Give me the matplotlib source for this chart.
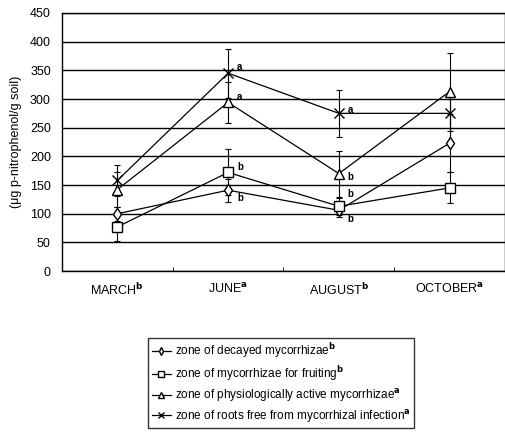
import matplotlib
matplotlib.use("Agg")
import matplotlib.pyplot as plt
from matplotlib.lines import Line2D
import numpy as np

plt.rcParams['font.family'] = ['Liberation Sans', 'DejaVu Sans']

months = ['MARCH', 'JUNE', 'AUGUST', 'OCTOBER']
month_sup = ['b', 'a', 'b', 'a']

decayed = [100, 141, 106, 223]
decayed_err = [12, 20, 12, 50]
fruiting = [77, 172, 113, 145]
fruiting_err = [24, 40, 15, 27]
active = [142, 294, 170, 313]
active_err = [30, 35, 40, 68]
free = [158, 345, 275, 275]
free_err = [27, 43, 41, 25]

# letters next to points (june, august) and their y offsets
lab_june = ['b', 'b', 'a', 'a']
lab_aug = ['b', 'b', 'b', 'a']
off_june = [-14, 10, 10, 10]
off_aug = [-16, 22, -6, 6]

names = ['zone of decayed mycorrhizae', 'zone of mycorrhizae for fruiting',
         'zone of physiologically active mycorrhizae',
         'zone of roots free from mycorrhizal infection']
name_sup = ['b', 'b', 'a', 'a']

fig = plt.figure(figsize=(5.06, 4.33), dpi=100)
ax = fig.add_axes([0.1225, 0.374, 0.8755, 0.596])

x = np.arange(len(months))
series = [(decayed, decayed_err, 'd', 6), (fruiting, fruiting_err, 's', 7),
          (active, active_err, '^', 7), (free, free_err, 'x', 7)]
handles = []
for i, (vals, err, m, ms) in enumerate(series):
    ax.errorbar(x, vals, yerr=err, color='black', marker=m, ms=ms, mfc='white',
                mec='black', lw=0.9, elinewidth=0.8, capsize=2.5, capthick=0.8)
    handles.append(Line2D([], [], color='black', lw=0.9, marker=m, ms=ms - 2,
                          mfc='white', mec='black',
                          label=names[i] + r'$^{\mathbf{' + name_sup[i] + '}}$'))
    ax.text(x[1] + 0.08, vals[1] + off_june[i], lab_june[i], fontsize=7,
            fontweight='bold', va='center')
    ax.text(x[2] + 0.08, vals[2] + off_aug[i], lab_aug[i], fontsize=7,
            fontweight='bold', va='center')

ax.set_xlim(-0.5, 3.5)
ax.set_ylim(0, 450)
ax.set_yticks(np.arange(0, 451, 50))
ax.yaxis.grid(True, color='black', lw=1.0)
ax.set_axisbelow(True)
ax.tick_params(axis='y', length=0, labelsize=9, pad=8)
ax.set_xticks(x)
ax.set_xticklabels([m + r'$^{\mathbf{' + s + '}}$' for m, s in zip(months, month_sup)], fontsize=9)
ax.tick_params(axis='x', length=0, pad=8)
ax.set_xticks([0.5, 1.5, 2.5], minor=True)
ax.tick_params(axis='x', which='minor', direction='in', length=3)
for sp in ax.spines.values():
    sp.set_linewidth(1.0)
ax.set_ylabel('(μg p-nitrophenol/g soil)', fontsize=9, labelpad=6)

fig.legend(handles=handles, loc='upper center', bbox_to_anchor=(0.556, 0.233),
           fontsize=8.5, frameon=True, fancybox=False, edgecolor='black',
           handlelength=1.6, handletextpad=0.4, borderpad=0.3, labelspacing=0.32)

fig.savefig('out.png', dpi=100)
